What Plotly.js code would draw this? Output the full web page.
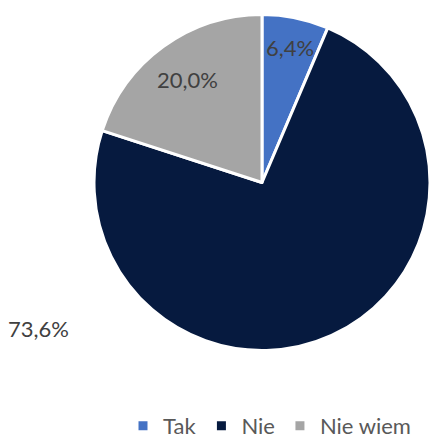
<!DOCTYPE html>
<html>
<head>
<meta charset="utf-8">
<script src="https://cdn.plot.ly/plotly-3.0.1.min.js"></script>
<style>html,body{margin:0;padding:0;background:#fff;}#chart{width:430px;height:441px;}</style>
</head>
<body>
<div id="chart"></div>
<script>
var categories = ["Tak", "Nie", "Nie wiem"];
var values = [6.4, 73.6, 20.0];
var colors = ["#4472C4", "#061A3F", "#A5A5A5"];

function fmt(v) { return v.toFixed(1).replace(".", ",") + "%"; }
var labels = values.map(fmt);

// pie geometry (pixels) used for the domain
var W = 430, H = 441;
var pieLeft = 94, pieRight = 430, pieTop = 13, pieBottom = 352;
var cx = (pieLeft + pieRight) / 2, cy = (pieTop + pieBottom) / 2;
var R = Math.min(pieRight - pieLeft, pieBottom - pieTop) / 2;

var FONT = "Lato, 'Open Sans', sans-serif";

// label annotations: inside labels computed from cumulative slice angles
var total = values.reduce(function (a, b) { return a + b; }, 0);
var labelRadius = [0.82, null, 0.755];
var annotations = [];
var cum = 0;
values.forEach(function (v, i) {
  var mid = (cum + v / 2) / total * 2 * Math.PI; // clockwise from 12 o'clock
  cum += v;
  var px, py;
  if (labelRadius[i] !== null) {
    px = cx + Math.sin(mid) * R * labelRadius[i];
    py = cy - Math.cos(mid) * R * labelRadius[i];
  } else {
    px = 38; py = 328; // label moved outside the pie, lower left
  }
  annotations.push({
    xref: "paper", yref: "paper",
    x: px / W, y: 1 - py / H,
    xanchor: "center", yanchor: "middle",
    text: labels[i],
    showarrow: false,
    font: { family: FONT, size: 22, color: "#404040" }
  });
});

var trace = {
  type: "pie",
  labels: categories,
  values: values,
  textinfo: "none",
  sort: false,
  direction: "clockwise",
  rotation: 0,
  marker: { colors: colors, line: { color: "#ffffff", width: 3 } },
  hoverinfo: "label+percent",
  domain: { x: [pieLeft / W, pieRight / W], y: [1 - pieBottom / H, 1 - pieTop / H] }
};

var layout = {
  width: W,
  height: H,
  margin: { l: 0, r: 0, t: 0, b: 0, autoexpand: false },
  paper_bgcolor: "#ffffff",
  showlegend: true,
  legend: {
    orientation: "h",
    x: 123 / W, xanchor: "left",
    y: -6 / H, yanchor: "bottom",
    font: { family: FONT, size: 22, color: "#595959" },
    itemwidth: 30
  },
  annotations: annotations
};

Plotly.newPlot("chart", [trace], layout, { displayModeBar: false, staticPlot: true });
</script>
</body>
</html>
